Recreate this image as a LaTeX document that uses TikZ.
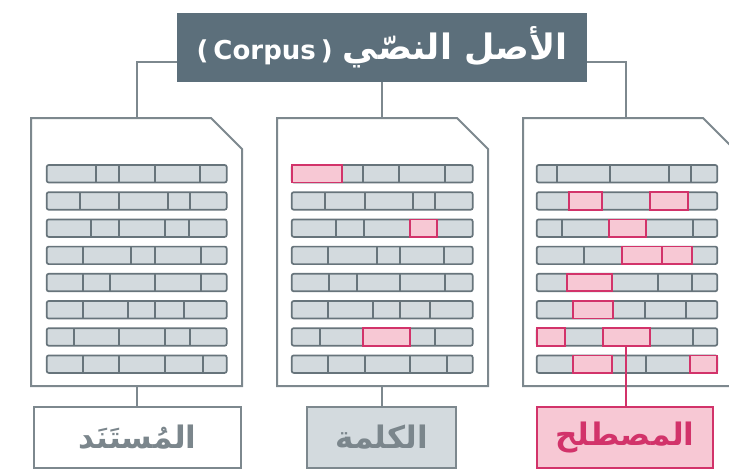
\documentclass[tikz,border=0pt]{standalone}
\usepackage{fontspec}
\TeXXeTstate=1
\newfontfamily\arabicfont[Script=Arabic]{DejaVu Sans}
\newfontfamily\latinfont{DejaVu Sans}
\definecolor{titlefill}{HTML}{5C6F7B}
\definecolor{docline}{HTML}{7D888E}
\definecolor{barfillc}{HTML}{D3DADE}
\definecolor{barlinec}{HTML}{67747B}
\definecolor{pinkfillc}{HTML}{F7C8D4}
\definecolor{pinklinec}{HTML}{D2336A}
\definecolor{labeltext}{HTML}{7B868C}
\tikzset{
  docshape/.style={draw=docline,line width=2pt,fill=white,line join=miter},
  conn/.style={draw=docline,line width=2pt},
  pinkconn/.style={draw=pinklinec,line width=2pt},
  barline/.style={draw=barlinec,line width=1.7pt},
  pinkbox/.style={draw=pinklinec,fill=pinkfillc,line width=1.7pt},
  titlebox/.style={fill=titlefill,minimum width=410pt,minimum height=69pt,inner sep=0pt,text=white},
  labelbox/.style={draw=docline,line width=2pt,minimum height=61pt,inner sep=0pt,font=\arabicfont\bfseries\fontsize{31}{36}\selectfont},
}
\newcommand\grayrow[4]{%
  \fill[barfillc,rounded corners=2pt] (#1,#3) rectangle (#2,#3+17.5);
  \foreach \d in {#4} {\draw[barline] (\d,#3) -- (\d,#3+17.5);}
  \draw[barline,rounded corners=2pt] (#1,#3) rectangle (#2,#3+17.5);
}
\newcommand\pinkseg[3]{\draw[pinkbox] (#1,#3) rectangle (#2,#3+17.5);}
\newcommand\docpath[1]{%
  \draw[docshape] (#1,118) -- (#1+180,118) -- (#1+211,149) -- (#1+211,386) -- (#1,386) -- cycle;
}
\begin{document}
\begin{tikzpicture}[x=1pt,y=-1pt]
\useasboundingbox (0,0) rectangle (729,474);
\clip (0,0) rectangle (729,474);
% title
\node[titlebox] (title) at (382,47.5) {{\latinfont\bfseries\fontsize{26}{30}\selectfont (\hspace{5pt}Corpus\hspace{5pt})}\hspace{10pt}{\arabicfont\bfseries\fontsize{35}{40}\selectfont\beginR الأصل النصّي\endR}};
% doc anchors
\coordinate (d1top) at (137,118);
\coordinate (d2top) at (382,118);
\coordinate (d3top) at (626,118);
\coordinate (d1bot) at (137,386);
\coordinate (d2bot) at (382,386);
\coordinate (r7pink) at (626.3,345.7);
% connectors from title
\draw[conn] (title.west |- 0,62) -| (d1top);
\draw[conn] (title.south -| d2top) -- (d2top);
\draw[conn] (title.east |- 0,62) -| (d3top);
% documents
\docpath{31}
\docpath{277}
\docpath{523}
% left doc rows
\grayrow{46.7}{226.7}{165}{96,119.3,155,200}
\grayrow{46.7}{226.7}{192.2}{80,119.3,168.3,190}
\grayrow{46.7}{226.7}{219.4}{90.7,119.3,165,189.3}
\grayrow{46.7}{226.7}{246.6}{82.7,131,155,201}
\grayrow{46.7}{226.7}{273.8}{82.7,110,155,201}
\grayrow{46.7}{226.7}{301}{82.7,128.3,155,184}
\grayrow{46.7}{226.7}{328.2}{74,119.3,165,190}
\grayrow{46.7}{226.7}{355.4}{82.7,119.3,165,202.7}
% middle doc rows
\grayrow{291.7}{472.7}{165}{363.3,399.3,445}
\pinkseg{291.7}{341.7}{165}
\grayrow{291.7}{472.7}{192.2}{325,365,413.3,435}
\grayrow{291.7}{472.7}{219.4}{336,364}
\pinkseg{410}{436.7}{219.4}
\grayrow{291.7}{472.7}{246.6}{328.3,376.7,400,444}
\grayrow{291.7}{472.7}{273.8}{329.3,356.7,400,445}
\grayrow{291.7}{472.7}{301}{328.3,372.7,400,430}
\grayrow{291.7}{472.7}{328.2}{320,435}
\pinkseg{363.3}{410}{328.2}
\grayrow{291.7}{472.7}{355.4}{328.3,365,410,446.7}
% right doc rows
\grayrow{536.7}{717.3}{165}{556.7,610,669.3,690.7}
\grayrow{536.7}{717.3}{192.2}{569.3}
\pinkseg{569.3}{601.7}{192.2}
\pinkseg{650}{688.3}{192.2}
\grayrow{536.7}{717.3}{219.4}{561.7,692.7}
\pinkseg{609.3}{646}{219.4}
\grayrow{536.7}{717.3}{246.6}{584}
\pinkseg{621.7}{661.7}{246.6}
\pinkseg{661.7}{691.7}{246.6}
\grayrow{536.7}{717.3}{273.8}{658.3,691.7}
\pinkseg{567.3}{611.7}{273.8}
\grayrow{536.7}{717.3}{301}{645,686}
\pinkseg{573.3}{613.3}{301}
\grayrow{536.7}{717.3}{328.2}{692.7}
\pinkseg{536.7}{565}{328.2}
\pinkseg{602.7}{650}{328.2}
\grayrow{536.7}{717.3}{355.4}{646}
\pinkseg{573.3}{611.7}{355.4}
\pinkseg{690}{717.3}{355.4}
% labels
\node[labelbox,fill=white,text=labeltext,minimum width=207pt] (lab1) at (137.5,437.5) {\beginR المُستَنَد\endR};
\node[labelbox,fill=barfillc,text=labeltext,minimum width=149pt] (lab2) at (381.5,437.5) {\beginR الكلمة\endR};
\node[labelbox,draw=pinklinec,fill=pinkfillc,text=pinklinec,minimum width=176pt] (lab3) at (625,437.5) {\beginR المصطلح\endR};
% bottom connectors
\draw[conn] (d1bot) -- (d1bot |- lab1.north);
\draw[conn] (d2bot) -- (d2bot |- lab2.north);
\draw[pinkconn] (r7pink) -- (r7pink |- lab3.north);
\end{tikzpicture}
\end{document}
